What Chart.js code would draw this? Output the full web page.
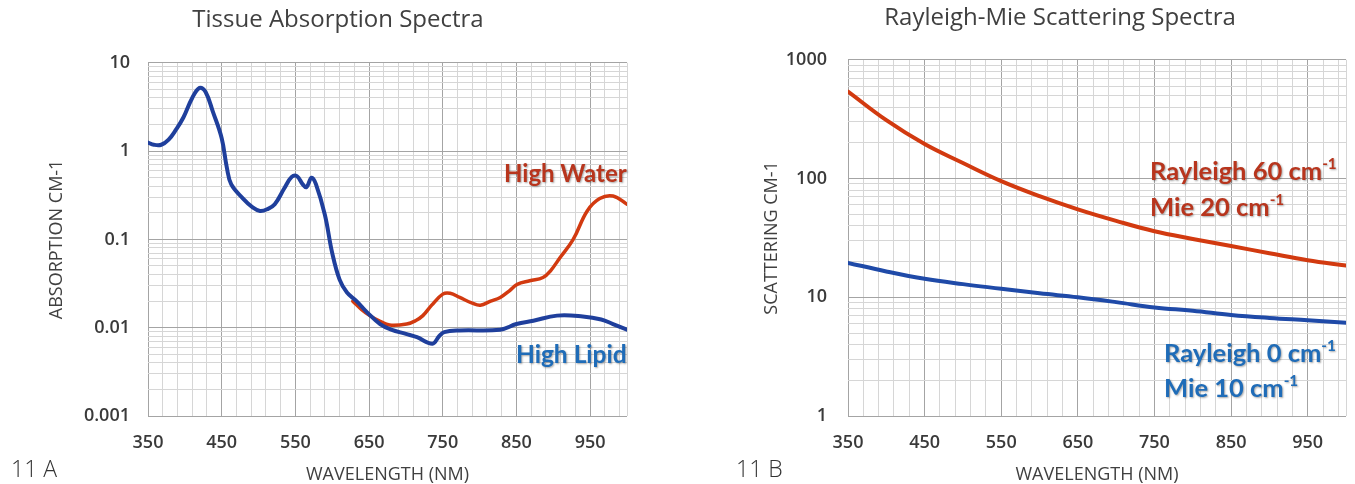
<!DOCTYPE html>
<html>
<head>
<meta charset="utf-8">
<script src="https://cdn.jsdelivr.net/npm/chart.js@4.4.1/dist/chart.umd.min.js"></script>
<style>
  html, body { margin: 0; padding: 0; background: #fff; width: 1355px; height: 484px; overflow: hidden; }
  .box { position: absolute; top: 0; height: 484px; }
  #boxA { left: 0; width: 690px; }
  #boxB { left: 725px; width: 670px; }
  .fig { position: absolute; top: 452px; font: 300 23px 'Open Sans', sans-serif; color: #333; }
  .note { position: absolute; font-family: Lato, sans-serif; font-weight: bold; line-height: 1; white-space: nowrap;
          text-shadow: 1px 1px 2px rgba(0,0,0,0.35); }
  .note sup { font-size: 0.6em; line-height: 0; vertical-align: 0.7em; }
  .red { color: #b8351d; }
  .blue { color: #1f6cb8; }
</style>
</head>
<body>
<div class="box" id="boxA"><canvas id="absorption"></canvas></div>
<div class="box" id="boxB"><canvas id="scattering"></canvas></div>

<div class="fig" style="left:11px">11 A</div>
<div class="fig" style="left:736px">11 B</div>

<div class="note red" style="left:504px;top:161px;font-size:24px">High Water</div>
<div class="note blue" style="left:516px;top:342px;font-size:24.5px">High Lipid</div>
<div class="note red" style="left:1150px;top:158px;font-size:25.5px">Rayleigh 60 cm<sup>-1</sup></div>
<div class="note red" style="left:1150px;top:194px;font-size:25.5px">Mie 20 cm<sup>-1</sup></div>
<div class="note blue" style="left:1164px;top:340px;font-size:25.5px">Rayleigh 0 cm<sup>-1</sup></div>
<div class="note blue" style="left:1164px;top:375px;font-size:25.5px">Mie 10 cm<sup>-1</sup></div>

<script>
// tick labels
const xTickLabels = [350, 450, 550, 650, 750, 850, 950];
const absTickLabels = ['0.001', '0.01', '0.1', '1', '10'];
const scatTickLabels = ['1', '10', '100', '1000'];

// 11 A - absorption, high lipid (blue)
const lipidWl = [350, 358, 368, 378, 388, 398, 410, 420, 428, 438, 450, 457, 463, 479, 492, 502, 512, 522, 535, 545,
  552, 560, 565, 572, 578, 590, 600, 610, 620, 633, 647, 665, 680, 700, 715, 736, 745, 752, 773, 828,
  850, 873, 905, 940, 965, 981, 1000];
const lipidAbs = [1.25, 1.18, 1.18, 1.35, 1.75, 2.4, 4.0, 5.2, 4.7, 2.8, 1.4, 0.65, 0.42, 0.29, 0.23, 0.21, 0.22, 0.25, 0.38, 0.51,
  0.52, 0.42, 0.39, 0.5, 0.42, 0.19, 0.07, 0.035, 0.025, 0.02, 0.015, 0.011, 0.0095, 0.0085, 0.0078, 0.0066, 0.008, 0.0089, 0.0093, 0.0095,
  0.011, 0.012, 0.0137, 0.0134, 0.0124, 0.011, 0.0095];

// 11 A - absorption, high water (red)
const waterWl = [628, 640, 651, 665, 678, 701, 713, 723, 735, 750, 760, 773, 790, 801, 815, 828, 840, 851, 868, 886,
  897, 909, 927, 946, 963, 981, 1000];
const waterAbs = [0.02, 0.016, 0.0137, 0.0118, 0.0107, 0.011, 0.012, 0.0137, 0.018, 0.024, 0.0245, 0.022, 0.019, 0.018, 0.02, 0.022, 0.026, 0.031, 0.034, 0.037,
  0.045, 0.062, 0.1, 0.21, 0.29, 0.31, 0.25];

// 11 B - scattering
const scatWl = [350, 400, 450, 500, 550, 600, 650, 700, 750, 800, 850, 900, 950, 1000];
const rayleigh60 = [540, 310, 195, 135, 95, 71, 55, 44, 36, 31, 27, 23.5, 20.5, 18.5];
const rayleigh0 = [19.5, 16.5, 14.3, 12.9, 11.8, 10.8, 10.0, 9.1, 8.2, 7.7, 7.1, 6.7, 6.4, 6.1];

const RED = '#d23a10';
const BLUE = '#1f3f9c';
const MAJOR = '#a4a4a4';
const MINOR = '#d6d6d6';
const tickFont = { family: "'Open Sans', sans-serif", size: 18, weight: '600' };
const titleFont = { family: "'Open Sans', sans-serif", size: 18 };

// minor grid every 20 nm, majors every 100 nm
const xGrid = [];
for (let v = 350; v < 1000; v += 20) xGrid.push(v);
xGrid.push(1000);

function logGrid(labels) {
  const vals = [];
  labels.forEach((l, i) => {
    const d = parseFloat(l);
    if (i === labels.length - 1) { vals.push(d); return; }
    for (let m = 1; m <= 9; m++) vals.push(parseFloat((m * d).toPrecision(3)));
  });
  return vals;
}

function pts(xs, ys) {
  return xs.map((x, i) => ({ x: x, y: ys[i] }));
}

function makeChart(id, cfg) {
  const yGrid = logGrid(cfg.yLabels);
  return new Chart(document.getElementById(id), {
    type: 'line',
    data: { datasets: cfg.datasets },
    options: {
      responsive: true,
      maintainAspectRatio: false,
      animation: false,
      layout: { padding: { left: cfg.padL, right: cfg.padR, top: 0, bottom: 0 } },
      elements: { point: { radius: 0 }, line: { tension: 0.4, borderCapStyle: 'round' } },
      plugins: {
        legend: { display: false },
        tooltip: { enabled: false },
        title: {
          display: true,
          text: cfg.title,
          color: '#404040',
          font: { family: "'Open Sans', sans-serif", size: 24, weight: '400', lineHeight: 1.2 },
          padding: { top: cfg.titleTop, bottom: cfg.titleBottom }
        }
      },
      scales: {
        x: {
          type: 'linear',
          min: 350,
          max: 1000,
          afterBuildTicks: s => { s.ticks = xGrid.map(v => ({ value: v })); },
          afterFit: s => { s.height = 68; },
          grid: {
            drawTicks: false,
            color: c => xTickLabels.includes(c.tick.value) ? MAJOR : MINOR
          },
          border: { display: false },
          ticks: {
            autoSkip: false,
            maxRotation: 0,
            padding: 16,
            color: '#3a3a3a',
            font: tickFont,
            callback: v => xTickLabels.includes(v) ? String(v) : ''
          },
          title: {
            display: true,
            text: 'WAVELENGTH (NM)',
            color: '#404040',
            font: titleFont,
            padding: { top: 0, bottom: -2 }
          }
        },
        y: {
          type: 'logarithmic',
          min: parseFloat(cfg.yLabels[0]),
          max: parseFloat(cfg.yLabels[cfg.yLabels.length - 1]),
          afterBuildTicks: s => { s.ticks = yGrid.map(v => ({ value: v })); },
          afterFit: s => { s.width = cfg.yWidth; },
          grid: {
            drawTicks: false,
            color: c => cfg.yLabels.includes(String(c.tick.value)) ? MAJOR : MINOR
          },
          border: { display: false },
          ticks: {
            autoSkip: false,
            padding: cfg.yPad,
            color: '#3a3a3a',
            font: tickFont,
            callback: v => cfg.yLabels.includes(String(v)) ? String(v) : ''
          },
          title: {
            display: true,
            text: cfg.yTitle,
            color: '#404040',
            font: titleFont,
            padding: { top: cfg.yTitlePad, bottom: 0 }
          }
        }
      }
    }
  });
}

makeChart('absorption', {
  title: 'Tissue Absorption Spectra',
  yTitle: 'ABSORPTION CM-1',
  yLabels: absTickLabels,
  padL: 49, padR: 63, yWidth: 99, yPad: 18, yTitlePad: -3,
  titleTop: 6, titleBottom: 28,
  datasets: [
    { label: 'High Lipid', data: pts(lipidWl, lipidAbs), borderColor: BLUE, borderWidth: 4 },
    { label: 'High Water', data: pts(waterWl, waterAbs), borderColor: RED, borderWidth: 3.5 }
  ]
});

makeChart('scattering', {
  title: 'Rayleigh-Mie Scattering Spectra',
  yTitle: 'SCATTERING CM-1',
  yLabels: scatTickLabels,
  padL: 49, padR: 49, yWidth: 74, yPad: 21, yTitlePad: -13,
  titleTop: 4, titleBottom: 27,
  datasets: [
    { label: 'Rayleigh 60 / Mie 20', data: pts(scatWl, rayleigh60), borderColor: RED, borderWidth: 4 },
    { label: 'Rayleigh 0 / Mie 10', data: pts(scatWl, rayleigh0), borderColor: '#1f4aa8', borderWidth: 4 }
  ]
});
</script>
</body>
</html>
